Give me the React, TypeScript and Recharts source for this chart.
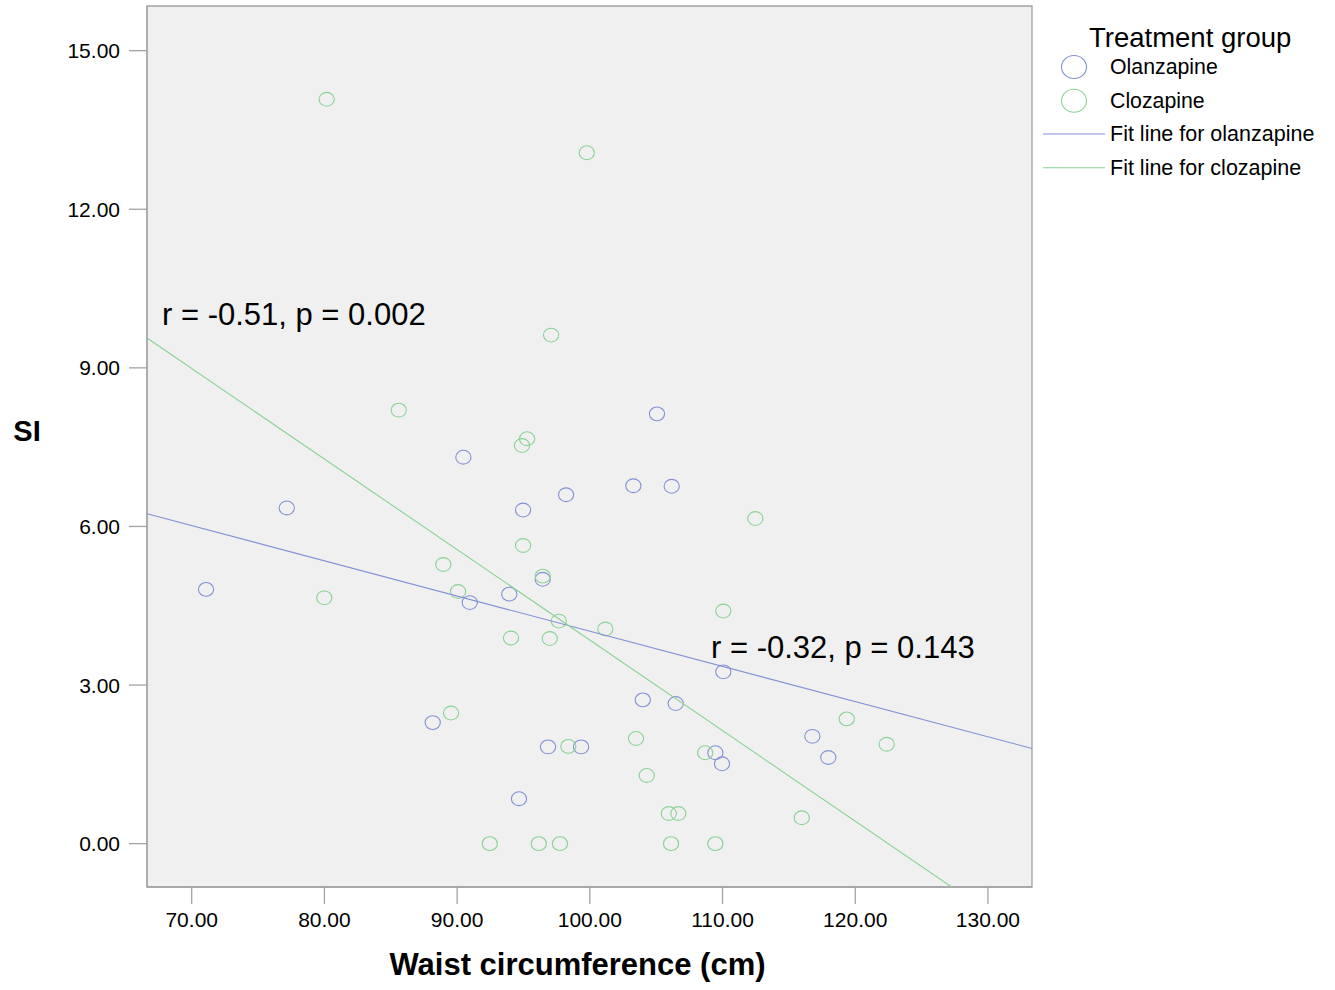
import React from "react";
import {
  ComposedChart,
  Scatter,
  XAxis,
  YAxis,
  ReferenceArea,
  ReferenceDot,
  Label,
} from "recharts";

// ---- Data ----
const olanzapineWaist = [
  71.08, 77.16, 88.16, 90.47, 90.95, 93.93, 94.97, 94.66, 96.45, 96.85, 98.21,
  99.34, 103.28, 103.99, 105.06, 106.17, 106.47, 109.46, 109.96, 110.06, 116.77,
  117.97,
];
const olanzapineSI = [
  4.81, 6.35, 2.29, 7.31, 4.56, 4.72, 6.31, 0.85, 5.0, 1.83, 6.6, 1.83, 6.77,
  2.72, 8.13, 6.76, 2.65, 1.72, 1.51, 3.25, 2.03, 1.63,
];
const clozapineWaist = [
  80.17, 99.77, 97.08, 85.6, 95.27, 94.89, 94.97, 88.96, 96.45, 79.99, 90.07,
  97.66, 94.06, 96.98, 101.17, 110.06, 112.47, 89.54, 98.38, 103.48, 108.69,
  104.29, 105.95, 106.67, 115.97, 119.36, 122.37, 92.46, 96.15, 97.75, 106.12,
  109.46,
];
const clozapineSI = [
  14.08, 13.07, 9.62, 8.2, 7.66, 7.53, 5.64, 5.28, 5.06, 4.65, 4.77, 4.21, 3.89,
  3.88, 4.06, 4.4, 6.15, 2.47, 1.84, 1.99, 1.72, 1.29, 0.57, 0.57, 0.49, 2.36,
  1.88, 0, 0, 0, 0, 0,
];

// Fit lines (intercept, slope) as seen in the picture
const olanzapineFit = { intercept: 10.676, slope: -0.06658 };
const clozapineFit = { intercept: 20.976, slope: -0.17126 };

const xTicks = [70, 80, 90, 100, 110, 120, 130];
const yTicks = [0, 3, 6, 9, 12, 15];
const xDomain: [number, number] = [66.63, 133.32];
const yDomain: [number, number] = [-0.82, 15.845];

const seriesNames = ["Olanzapine", "Clozapine"];
const fitNames = ["Fit line for olanzapine", "Fit line for clozapine"];
const annotationTexts = ["r = -0.51, p = 0.002", "r = -0.32, p = 0.143"];
const annotationX = [67.76, 109.13];
const annotationY = [9.805, 3.51];

// ---- Derived tables ----
const olzData = olanzapineWaist.map((x, i) => ({ x, y: olanzapineSI[i] }));
const cloData = clozapineWaist.map((x, i) => ({ x, y: clozapineSI[i] }));
const fitLine = (f: { intercept: number; slope: number }) =>
  xDomain.map((x) => ({ x, y: f.intercept + f.slope * x }));
const olzFit = fitLine(olanzapineFit);
const cloFit = fitLine(clozapineFit);

const BLUE = "#8390d6";
const GREEN = "#88d396";
const GRAY = "#a3a3a3";
const FONT = "Arial, 'Liberation Sans', sans-serif";

const ellipseShape = (color: string) => (props: any) => {
  const { cx, cy } = props;
  if (cx == null || cy == null) return <g />;
  return (
    <ellipse
      cx={cx}
      cy={cy}
      rx={7.6}
      ry={6.9}
      fill="none"
      stroke={color}
      strokeWidth={1.1}
    />
  );
};

const noShape = () => <g />;

const annotationLabel = (text: string) => (p: any) => {
  const vb = p.viewBox || {};
  const x = vb.cx != null ? vb.cx : vb.x;
  const y = vb.cy != null ? vb.cy : vb.y;
  return (
    <text x={x} y={y} fontSize={31} fontFamily={FONT} fill="#000">
      {text}
    </text>
  );
};

export default function App() {
  return (
    <div style={{ position: "absolute", left: 0, top: 0, background: "#fff" }}>
      <ComposedChart
        width={1335}
        height={990}
        margin={{ top: 6, right: 303, bottom: 0, left: 0 }}
        style={{ fontFamily: FONT }}
      >
        <ReferenceArea
          x1={xDomain[0]}
          x2={xDomain[1]}
          y1={yDomain[0]}
          y2={yDomain[1]}
          fill="#f0f0f0"
          fillOpacity={1}
          stroke={GRAY}
          strokeWidth={1.3}
          ifOverflow="visible"
        />
        <XAxis
          type="number"
          dataKey="x"
          domain={xDomain}
          ticks={xTicks}
          allowDataOverflow
          height={103}
          tickSize={17}
          tickMargin={8}
          tickFormatter={(v: number) => v.toFixed(2)}
          tick={{ fill: "#000", fontSize: 21, fontFamily: FONT }}
          axisLine={{ stroke: GRAY, strokeWidth: 1.3 }}
          tickLine={{ stroke: GRAY, strokeWidth: 1.3 }}
        >
          <Label
            content={(p: any) => {
              const vb = p.viewBox;
              return (
                <text
                  x={vb.x + vb.width / 2 - 12}
                  y={vb.y + 88}
                  textAnchor="middle"
                  fontSize={31}
                  fontWeight="bold"
                  fontFamily={FONT}
                  fill="#000"
                >
                  Waist circumference (cm)
                </text>
              );
            }}
          />
        </XAxis>
        <YAxis
          type="number"
          dataKey="y"
          domain={yDomain}
          ticks={yTicks}
          allowDataOverflow
          width={147}
          tickSize={18}
          tickMargin={9}
          tickFormatter={(v: number) => v.toFixed(2)}
          tick={{ fill: "#000", fontSize: 21, fontFamily: FONT }}
          axisLine={{ stroke: GRAY, strokeWidth: 1.3 }}
          tickLine={{ stroke: GRAY, strokeWidth: 1.3 }}
        >
          <Label
            content={() => (
              <text
                x={27}
                y={441}
                textAnchor="middle"
                fontSize={29}
                fontWeight="bold"
                fontFamily={FONT}
                fill="#000"
              >
                SI
              </text>
            )}
          />
        </YAxis>
        <Scatter
          name={seriesNames[0]}
          data={olzData}
          shape={ellipseShape(BLUE)}
          isAnimationActive={false}
        />
        <Scatter
          name={seriesNames[1]}
          data={cloData}
          shape={ellipseShape(GREEN)}
          isAnimationActive={false}
        />
        <Scatter
          name={fitNames[0]}
          data={olzFit}
          line={{ stroke: BLUE, strokeWidth: 1.1 }}
          shape={noShape}
          isAnimationActive={false}
        />
        <Scatter
          name={fitNames[1]}
          data={cloFit}
          line={{ stroke: GREEN, strokeWidth: 1.1 }}
          shape={noShape}
          isAnimationActive={false}
        />
        {annotationTexts.map((t, i) => (
          <ReferenceDot
            key={t}
            x={annotationX[i]}
            y={annotationY[i]}
            r={0}
            fill="none"
            stroke="none"
            ifOverflow="visible"
            label={{ content: annotationLabel(t) }}
          />
        ))}
        <g fontFamily={FONT}>
          <text x={1089} y={47} fontSize={27.5} fill="#000">
            Treatment group
          </text>
          <ellipse cx={1074} cy={67} rx={12.5} ry={11.5} fill="none" stroke={BLUE} strokeWidth={1.1} />
          <text x={1110} y={74} fontSize={21.3} fill="#000">
            {seriesNames[0]}
          </text>
          <ellipse cx={1074} cy={100.7} rx={12.5} ry={11.5} fill="none" stroke={GREEN} strokeWidth={1.1} />
          <text x={1110} y={107.5} fontSize={21.3} fill="#000">
            {seriesNames[1]}
          </text>
          <line x1={1043} y1={134} x2={1105} y2={134} stroke={BLUE} strokeWidth={1.1} />
          <text x={1110} y={141} fontSize={21.5} fill="#000">
            {fitNames[0]}
          </text>
          <line x1={1043} y1={167.7} x2={1105} y2={167.7} stroke={GREEN} strokeWidth={1.1} />
          <text x={1110} y={174.5} fontSize={21.5} fill="#000">
            {fitNames[1]}
          </text>
        </g>
      </ComposedChart>
    </div>
  );
}
